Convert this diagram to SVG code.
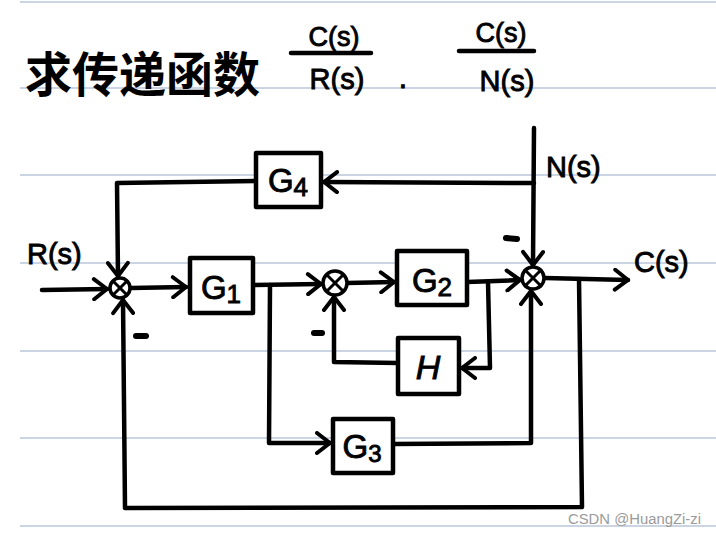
<svg xmlns="http://www.w3.org/2000/svg" width="716" height="537" viewBox="0 0 716 537">
<defs>
<style>
.rule{stroke:#b9c6da;stroke-width:1.6}
.w{fill:none;stroke:#000;stroke-width:4.5;stroke-linecap:round;stroke-linejoin:round}
.box{fill:#fff;stroke:#000;stroke-width:4.5;stroke-linejoin:round}
.sum{fill:#fff;stroke:#000;stroke-width:3.5}
.x{stroke:#000;stroke-width:3;stroke-linecap:round}
.lbl{font-family:"Liberation Sans","DejaVu Sans",sans-serif;fill:#000;stroke:#000;stroke-width:0.9}
.hand{font-family:"Noto Sans CJK SC","Noto Sans CJK JP",sans-serif;font-weight:700;fill:#000}
.minus{stroke:#000;stroke-width:6;stroke-linecap:round}
.wm{font-family:"Liberation Sans","DejaVu Sans",sans-serif;fill:#9a9a9a}
</style>
<marker id="arr" viewBox="0 0 20 24" refX="16" refY="12" markerWidth="20" markerHeight="24" markerUnits="userSpaceOnUse" orient="auto">
<path d="M3,2 L16,12 L3,22" fill="none" stroke="#000" stroke-width="4" stroke-linecap="round" stroke-linejoin="round"/>
</marker>
</defs>
<rect width="716" height="537" fill="#fff"/>
<g id="paper">
<line class="rule" x1="20" y1="2" x2="716" y2="2"/>
<line class="rule" x1="20" y1="88" x2="716" y2="88"/>
<line class="rule" x1="20" y1="175" x2="716" y2="175"/>
<line class="rule" x1="20" y1="263" x2="716" y2="263"/>
<line class="rule" x1="20" y1="351" x2="716" y2="351"/>
<line class="rule" x1="20" y1="438" x2="716" y2="438"/>
<line class="rule" x1="20" y1="526" x2="716" y2="526"/>
</g>
<g id="title">
<text class="hand" x="25" y="92" font-size="48" textLength="235" lengthAdjust="spacingAndGlyphs">求传递函数</text>
<text class="lbl" x="334" y="46" font-size="27" text-anchor="middle">C(s)</text>
<line class="w" x1="291" y1="53" x2="371" y2="53"/>
<text class="lbl" x="337" y="89" font-size="29" text-anchor="middle">R(s)</text>
<text class="lbl" x="403" y="88" font-size="30" text-anchor="middle">.</text>
<text class="lbl" x="501" y="42" font-size="27" text-anchor="middle">C(s)</text>
<line class="w" x1="459" y1="51" x2="534" y2="51"/>
<text class="lbl" x="507" y="91" font-size="29" text-anchor="middle">N(s)</text>
</g>
<g id="connectors">
<path class="w" d="M42,290 L107,289" marker-end="url(#arr)"/>
<path class="w" d="M131,288 L186,287" marker-end="url(#arr)"/>
<path class="w" d="M253,285 L321,284" marker-end="url(#arr)"/>
<path class="w" d="M270,285 L269,443 L330,443" marker-end="url(#arr)"/>
<path class="w" d="M347,283 L394,282" marker-end="url(#arr)"/>
<path class="w" d="M467,282 L520,280" marker-end="url(#arr)"/>
<path class="w" d="M488,282 L490,368 L462,368" marker-end="url(#arr)"/>
<path class="w" d="M398,363 L334,362 L334,297" marker-end="url(#arr)"/>
<path class="w" d="M393,444 L531,443 L531,291" marker-end="url(#arr)"/>
<path class="w" d="M534,128 L533,265" marker-end="url(#arr)"/>
<path class="w" d="M534,183 L324,182" marker-end="url(#arr)"/>
<path class="w" d="M256,181 L117,183 L118,276" marker-end="url(#arr)"/>
<path class="w" d="M545,278 L628,280" marker-end="url(#arr)"/>
<path class="w" d="M579,279 L582,507 L125,508 L123,300" marker-end="url(#arr)"/>
</g>
<g id="sum1">
<circle class="sum" cx="120" cy="288" r="10"/>
<line class="x" x1="113" y1="281" x2="127" y2="295"/>
<line class="x" x1="127" y1="281" x2="113" y2="295"/>
<line class="minus" x1="136" y1="336" x2="146" y2="336"/>
</g>
<g id="sum2">
<circle class="sum" cx="335" cy="283" r="12"/>
<line class="x" x1="327" y1="275" x2="343" y2="291"/>
<line class="x" x1="343" y1="275" x2="327" y2="291"/>
<line class="minus" x1="314" y1="333" x2="322" y2="333"/>
</g>
<g id="sum3">
<circle class="sum" cx="533" cy="278" r="11"/>
<line class="x" x1="525" y1="270" x2="541" y2="286"/>
<line class="x" x1="541" y1="270" x2="525" y2="286"/>
<line class="minus" x1="506" y1="238" x2="517" y2="239"/>
</g>
<g id="G4">
<rect class="box" x="256" y="153" width="65" height="54"/>
<text class="lbl" x="288" y="192" font-size="33" text-anchor="middle">G<tspan font-size="26" dy="4">4</tspan></text>
</g>
<g id="G1">
<rect class="box" x="190" y="258" width="63" height="55"/>
<text class="lbl" x="221" y="299" font-size="33" text-anchor="middle">G<tspan font-size="26" dy="4">1</tspan></text>
</g>
<g id="G2">
<rect class="box" x="397" y="251" width="70" height="54"/>
<text class="lbl" x="432" y="292" font-size="33" text-anchor="middle">G<tspan font-size="26" dy="4">2</tspan></text>
</g>
<g id="H">
<rect class="box" x="398" y="338" width="61" height="56"/>
<text class="lbl" x="428" y="379" font-size="34" text-anchor="middle" font-style="italic">H</text>
</g>
<g id="G3">
<rect class="box" x="333" y="419" width="60" height="54"/>
<text class="lbl" x="362" y="458" font-size="33" text-anchor="middle">G<tspan font-size="24" dy="4">3</tspan></text>
</g>
<g id="labels">
<text class="lbl" x="27" y="264" font-size="29">R(s)</text>
<text class="lbl" x="546" y="177" font-size="29">N(s)</text>
<text class="lbl" x="634" y="272" font-size="29">C(s)</text>
<text class="wm" x="568" y="524" font-size="14" textLength="133" lengthAdjust="spacingAndGlyphs">CSDN @HuangZi-zi</text>
</g>
</svg>
